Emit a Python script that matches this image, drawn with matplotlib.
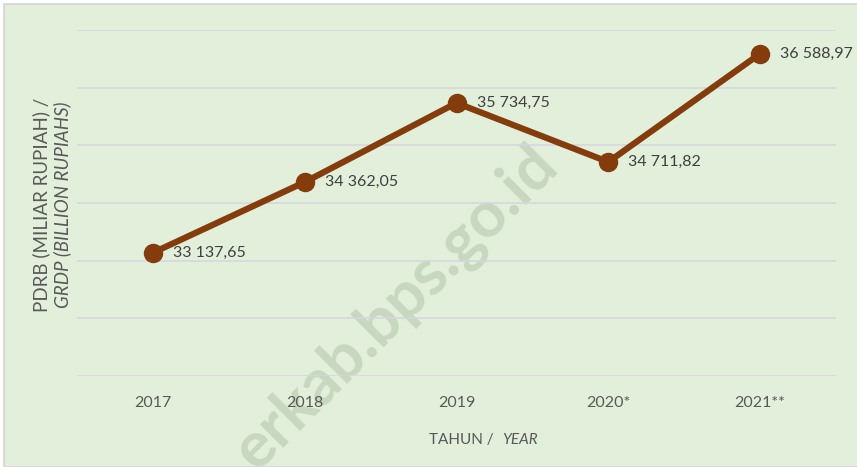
import matplotlib.pyplot as plt
from matplotlib.patches import Rectangle

tahun = ['2017', '2018', '2019', '2020*', '2021**']
pdrb = [33137.65, 34362.05, 35734.75, 34711.82, 36588.97]

W, H = 857, 467
fig = plt.figure(figsize=(W / 100, H / 100), dpi=100)
fig.patch.set_facecolor('white')
plt.rcParams['font.family'] = ['Lato', 'DejaVu Sans']

# panel hijau dengan bingkai abu-abu tipis
fig.patches.append(Rectangle((4 / W, 0), 1, 1 - 4 / H, transform=fig.transFigure,
                             facecolor='#e2efda', edgecolor='#d4d4d4', lw=1.2, zorder=-10))


def px(x, y):
    return x / W, 1 - y / H


ax = fig.add_axes([77 / W, (H - 376) / H, (836 - 77) / W, (376 - 30) / H])
ax.set_zorder(1)
ax.set_facecolor('none')
ax.set_xlim(-0.5, len(tahun) - 0.5)
ax.set_ylim(31000, 37000)
ax.set_yticks(range(31000, 37001, 1000))
ax.yaxis.grid(True, color='#d6d6de', lw=1.2)
ax.set_axisbelow(True)
ax.tick_params(left=False, labelleft=False, bottom=False, labelbottom=False)
for s in ax.spines.values():
    s.set_visible(False)

xs = list(range(len(tahun)))
ax.plot(xs, pdrb, color='#843c0c', lw=4.5, marker='o', ms=13,
        solid_capstyle='round', zorder=3)

for x, v in zip(xs, pdrb):
    lbl = f'{v:,.2f}'.replace(',', ' ').replace('.', ',')
    ax.annotate(lbl, (x, v), xytext=(14.5, 0), textcoords='offset points',
                ha='left', va='center', fontsize=11.5, color='#404040', zorder=4)
    ax.text(x, -0.078, tahun[x], transform=ax.get_xaxis_transform(),
            ha='center', va='center', fontsize=11.5, color='#595959')

# watermark
fig.text(*px(560, 168), 'erkab.bps.go.id', rotation=45, rotation_mode='anchor',
         ha='right', va='baseline', fontsize=46, fontweight='bold',
         color='#c8d7c0', zorder=0.5)

fig.text(*px(494, 440), 'TAHUN /', ha='right', va='center', fontsize=11, color='#595959')
fig.text(*px(502, 440), 'YEAR', ha='left', va='center', fontsize=11,
         style='italic', color='#595959')
fig.text(*px(41, 205), 'PDRB (MILIAR RUPIAH) /', rotation=90, ha='center',
         va='center', fontsize=13.5, color='#595959')
fig.text(*px(62, 205), 'GRDP (BILLION RUPIAHS)', rotation=90, ha='center',
         va='center', fontsize=13.5, style='italic', color='#595959')

fig.savefig('out.png', dpi=100)
